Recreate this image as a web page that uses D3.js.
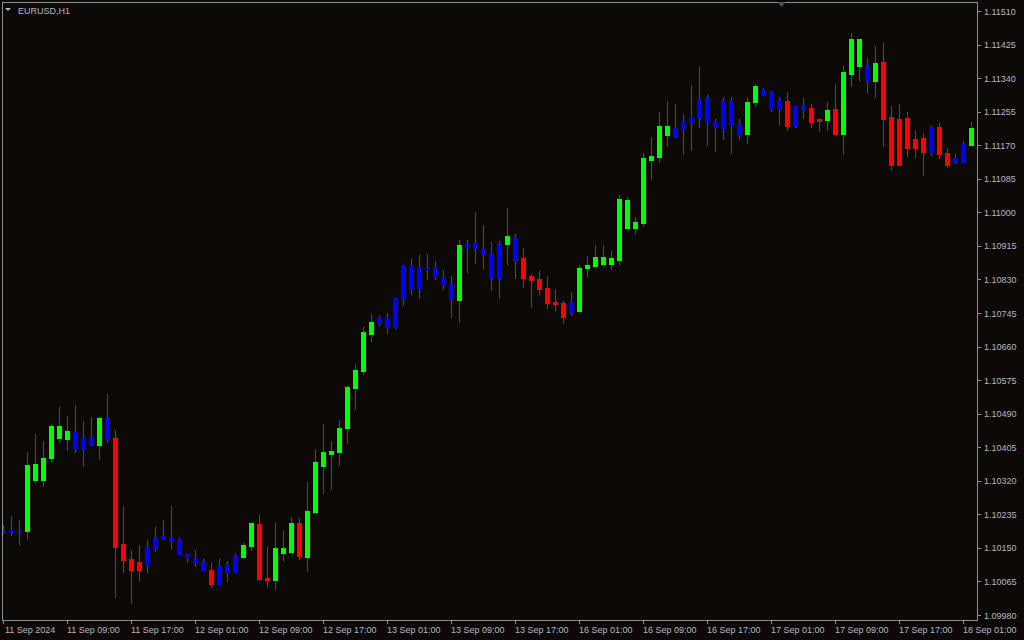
<!DOCTYPE html>
<html>
<head>
<meta charset="utf-8">
<script src="https://cdn.jsdelivr.net/npm/d3@7"></script>
<style>
  html, body { margin: 0; padding: 0; background: #0c0907; }
  svg { display: block; }
  text { font-family: "Liberation Sans", Arial, sans-serif; font-size: 9px; fill: #b4b8c1; }
</style>
</head>
<body>
<div id="Area"></div>
<script>
var symbol = "EURUSD,H1";

var opens = [1.10190,1.10195,1.10194,1.10194,1.10322,1.10322,1.10378,1.10428,1.10426,1.10444,
  1.10431,1.10431,1.10411,1.10479,1.10428,1.10160,1.10122,1.10114,1.10152,1.10178,
  1.10180,1.10175,1.10170,1.10134,1.10124,1.10117,1.10094,1.10104,1.10107,1.10130,
  1.10127,1.10155,1.10210,1.10074,1.10069,1.10137,1.10140,1.10213,1.10127,1.10241,
  1.10357,1.10388,1.10393,1.10454,1.10555,1.10598,1.10692,1.10732,1.10732,1.10783,
  1.10864,1.10864,1.10862,1.10862,1.10862,1.10836,1.10818,1.10778,1.10920,1.10922,
  1.10907,1.10897,1.10922,1.10920,1.10935,1.10884,1.10839,1.10831,1.10808,1.10773,
  1.10770,1.10773,1.10750,1.10859,1.10864,1.10869,1.10869,1.10879,1.10960,1.10960,
  1.10973,1.11133,1.11140,1.11196,1.11214,1.11229,1.11241,1.11287,1.11292,1.11229,
  1.11282,1.11282,1.11226,1.11198,1.11280,1.11310,1.11307,1.11285,1.11282,1.11269,
  1.11269,1.11264,1.11236,1.11234,1.11262,1.11198,1.11350,1.11371,1.11373,1.11333,
  1.11381,1.11241,1.11236,1.11239,1.11186,1.11188,1.11216,1.11216,1.11150,1.11138,
  1.11173,1.11171];
var highs = [1.10208,1.10231,1.10221,1.10393,1.10438,1.10421,1.10464,1.10507,1.10484,1.10512,
  1.10471,1.10482,1.10482,1.10540,1.10449,1.10256,1.10145,1.10157,1.10170,1.10203,
  1.10221,1.10256,1.10175,1.10134,1.10145,1.10122,1.10112,1.10122,1.10117,1.10134,
  1.10162,1.10213,1.10233,1.10152,1.10213,1.10193,1.10228,1.10226,1.10317,1.10400,
  1.10464,1.10421,1.10474,1.10560,1.10616,1.10710,1.10742,1.10737,1.10745,1.10783,
  1.10867,1.10882,1.10892,1.10894,1.10877,1.10854,1.10839,1.10930,1.10930,1.11001,
  1.10968,1.10925,1.10927,1.11011,1.10945,1.10910,1.10844,1.10851,1.10839,1.10806,
  1.10775,1.10798,1.10867,1.10889,1.10917,1.10917,1.10902,1.11044,1.11039,1.10988,
  1.11150,1.11191,1.11254,1.11282,1.11274,1.11249,1.11322,1.11368,1.11297,1.11236,
  1.11292,1.11292,1.11236,1.11290,1.11325,1.11315,1.11307,1.11292,1.11305,1.11269,
  1.11290,1.11274,1.11236,1.11280,1.11325,1.11371,1.11454,1.11439,1.11391,1.11421,
  1.11429,1.11269,1.11274,1.11254,1.11209,1.11201,1.11219,1.11226,1.11163,1.11148,
  1.11181,1.11229];
var lows = [1.10188,1.10183,1.10160,1.10173,1.10317,1.10307,1.10370,1.10418,1.10398,1.10393,
  1.10357,1.10411,1.10375,1.10418,1.10026,1.10089,1.10010,1.10069,1.10089,1.10142,
  1.10172,1.10150,1.10134,1.10114,1.10104,1.10094,1.10051,1.10059,1.10066,1.10089,
  1.10127,1.10145,1.10069,1.10051,1.10046,1.10119,1.10137,1.10122,1.10091,1.10238,
  1.10289,1.10299,1.10360,1.10416,1.10502,1.10590,1.10674,1.10715,1.10694,1.10707,
  1.10765,1.10793,1.10783,1.10831,1.10831,1.10806,1.10735,1.10722,1.10849,1.10872,
  1.10859,1.10803,1.10783,1.10869,1.10834,1.10811,1.10760,1.10793,1.10758,1.10753,
  1.10720,1.10740,1.10750,1.10839,1.10862,1.10867,1.10856,1.10869,1.10960,1.10948,
  1.10965,1.11084,1.11127,1.11168,1.11191,1.11148,1.11158,1.11216,1.11171,1.11155,
  1.11186,1.11150,1.11186,1.11176,1.11269,1.11297,1.11257,1.11224,1.11209,1.11216,
  1.11239,1.11216,1.11206,1.11209,1.11198,1.11148,1.11320,1.11335,1.11305,1.11292,
  1.11168,1.11107,1.11120,1.11143,1.11140,1.11095,1.11145,1.11138,1.11115,1.11125,
  1.11128,1.11171];
var closes = [1.10193,1.10189,1.10190,1.10360,1.10362,1.10378,1.10459,1.10459,1.10446,1.10403,
  1.10400,1.10413,1.10479,1.10426,1.10152,1.10119,1.10094,1.10094,1.10107,1.10150,
  1.10172,1.10167,1.10134,1.10127,1.10114,1.10094,1.10059,1.10059,1.10089,1.10089,
  1.10157,1.10213,1.10071,1.10069,1.10150,1.10150,1.10213,1.10130,1.10243,1.10368,
  1.10393,1.10395,1.10454,1.10558,1.10601,1.10697,1.10722,1.10720,1.10710,1.10710,
  1.10781,1.10806,1.10808,1.10856,1.10836,1.10818,1.10780,1.10917,1.10912,1.10910,
  1.10894,1.10834,1.10834,1.10940,1.10879,1.10834,1.10829,1.10806,1.10770,1.10768,
  1.10735,1.10745,1.10859,1.10867,1.10887,1.10887,1.10884,1.11034,1.11031,1.10976,
  1.11138,1.11143,1.11219,1.11219,1.11193,1.11211,1.11226,1.11239,1.11229,1.11216,
  1.11214,1.11224,1.11196,1.11280,1.11320,1.11300,1.11262,1.11264,1.11219,1.11219,
  1.11262,1.11229,1.11231,1.11259,1.11198,1.11356,1.11439,1.11439,1.11333,1.11378,
  1.11236,1.11120,1.11120,1.11163,1.11163,1.11153,1.11153,1.11148,1.11120,1.11125,
  1.11128,1.11214];
// indicator state of each bar: u = bull, d = bear, n = neutral
var signal = ["n","n","n","u","u","u","u","u","u","n","n","n","u","n","d","d","d","d","n","n",
  "n","n","n","n","n","n","d","n","n","n","u","u","d","d","u","u","u","d","u","u",
  "u","u","u","u","u","u","u","n","n","n","n","n","n","n","n","n","n","u","n","n",
  "n","n","n","u","n","d","d","d","d","d","d","n","u","u","u","u","u","u","u","u",
  "u","u","u","u","n","n","n","n","n","n","n","n","n","u","u","n","n","n","d","n",
  "n","d","d","u","d","u","u","u","n","u","d","d","d","d","d","d","n","d","d","n",
  "n","u"];

var timeLabels = ["11 Sep 2024", "11 Sep 09:00", "11 Sep 17:00", "12 Sep 01:00", "12 Sep 09:00",
  "12 Sep 17:00", "13 Sep 01:00", "13 Sep 09:00", "13 Sep 17:00", "16 Sep 01:00", "16 Sep 09:00",
  "16 Sep 17:00", "17 Sep 01:00", "17 Sep 09:00", "17 Sep 17:00", "18 Sep 01:00"];
var labelEvery = 8;

var priceTicks = [1.09980, 1.10065, 1.10150, 1.10235, 1.10320, 1.10405, 1.10490, 1.10575, 1.10660,
  1.10745, 1.10830, 1.10915, 1.11000, 1.11085, 1.11170, 1.11255, 1.11340, 1.11425, 1.11510];

var W = 1024, H = 640,
  plotRight = 977, plotBottom = 620;

var svg = d3.select("#Area").append("svg")
  .attr("width", W).attr("height", H);

svg.append("rect").attr("width", W).attr("height", H).attr("fill", "#0c0907");

var x = d3.scaleLinear().domain([0, opens.length - 1]).range([3.5, 971.5]);
var y = d3.scaleLinear().domain([1.09980, 1.11510]).range([615, 11]);

var colorOf = { u: "#00ff00", d: "#ff0000", n: "#0000ff" };

svg.append("clipPath").attr("id", "plotClip")
  .append("rect").attr("x", 3).attr("y", 3).attr("width", plotRight - 3).attr("height", plotBottom - 3);

var bars = svg.append("g").attr("clip-path", "url(#plotClip)")
  .attr("shape-rendering", "crispEdges");

var idx = d3.range(opens.length);

// wicks
bars.selectAll("line.wick")
  .data(idx)
  .enter().append("line")
  .attr("class", "wick")
  .attr("x1", function (i) { return x(i); })
  .attr("x2", function (i) { return x(i); })
  .attr("y1", function (i) { return Math.round(y(highs[i])); })
  .attr("y2", function (i) { return Math.round(y(lows[i])) + 1; })
  .attr("stroke", "#4d4d4d")
  .attr("stroke-width", 1);

// bodies
bars.selectAll("rect.body")
  .data(idx)
  .enter().append("rect")
  .attr("class", "body")
  .attr("x", function (i) { return x(i) - 2.5; })
  .attr("width", 5)
  .attr("y", function (i) { return Math.round(y(Math.max(opens[i], closes[i]))); })
  .attr("height", function (i) {
    var t = Math.round(y(Math.max(opens[i], closes[i])));
    var b = Math.round(y(Math.min(opens[i], closes[i])));
    return Math.max(1, b - t + 1);
  })
  .attr("fill", function (i) { return colorOf[signal[i]]; });

// frame
svg.append("path")
  .attr("shape-rendering", "crispEdges")
  .attr("d", "M2.5,620.5 V2.5 H" + (plotRight + 0.5) + " V" + (plotBottom + 0.5) + " H2.5")
  .attr("fill", "none")
  .attr("stroke", "#8c909b");

// price axis
var pAxis = svg.append("g");
pAxis.selectAll("line")
  .data(priceTicks)
  .enter().append("line")
  .attr("shape-rendering", "crispEdges")
  .attr("x1", plotRight).attr("x2", plotRight + 4)
  .attr("y1", function (d) { return Math.round(y(d)) + 0.5; })
  .attr("y2", function (d) { return Math.round(y(d)) + 0.5; })
  .attr("stroke", "#8c909b");
pAxis.selectAll("text")
  .data(priceTicks)
  .enter().append("text")
  .attr("x", plotRight + 7)
  .attr("y", function (d) { return y(d) + 3.5; })
  .text(function (d) { return d.toFixed(5); });

// time axis
var tAxis = svg.append("g");
tAxis.selectAll("line")
  .data(timeLabels)
  .enter().append("line")
  .attr("shape-rendering", "crispEdges")
  .attr("x1", function (d, k) { return Math.floor(x(k * labelEvery)) + 0.5; })
  .attr("x2", function (d, k) { return Math.floor(x(k * labelEvery)) + 0.5; })
  .attr("y1", plotBottom).attr("y2", plotBottom + 4)
  .attr("stroke", "#8c909b");
tAxis.selectAll("text")
  .data(timeLabels)
  .enter().append("text")
  .attr("x", function (d, k) { return k === 0 ? 5 : Math.floor(x(k * labelEvery)); })
  .attr("y", 633)
  .text(function (d) { return d; });

// symbol caption
svg.append("path").attr("d", "M5,8 L11,8 L8,11 Z").attr("fill", "#b4b8c1");
svg.append("text").attr("x", 18).attr("y", 14).text(symbol);

// chart shift marker
svg.append("path")
  .attr("d", "M777.5,2 L785.5,2 L781.5,7 Z")
  .attr("fill", "#474e70");
</script>
</body>
</html>
